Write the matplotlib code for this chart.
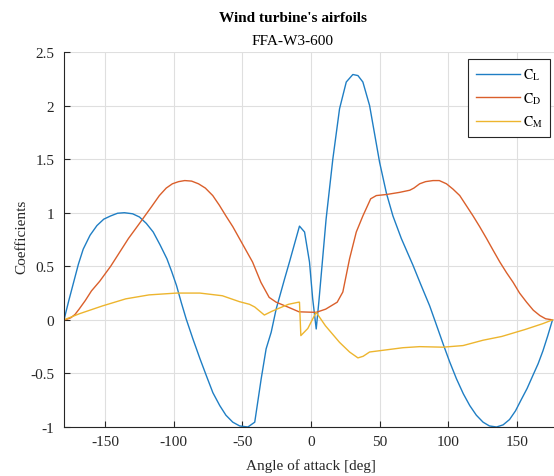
import matplotlib
matplotlib.use("Agg")
import matplotlib.pyplot as plt

plt.rcParams["font.family"] = ["Liberation Serif", "DejaVu Serif"]
plt.rcParams["mathtext.fontset"] = "stix"
plt.rcParams["axes.unicode_minus"] = False

# Lift coefficient vs angle of attack
alpha_cl = [-180, -176.5, -173, -169.5, -166, -161, -156, -151, -146, -141,
            -136, -130, -125, -120, -115, -110, -105, -101.5, -98, -94.5, -91,
            -86, -81, -76, -71.5, -66.5, -62, -57, -52, -46, -41, -36.3, -32.7,
            -29, -25.4, -19.3, -15.7, -8.4, -4.7, -1.1, 1.2, 3.8, 5.7, 11,
            15.9, 20.8, 25.7, 30.5, 34.2, 37.8, 42.7, 50, 55, 59.7, 65.8,
            74.3, 80, 86.5, 90.1, 96.7, 101, 106, 111, 115.7, 120.5, 125.4,
            130, 135.2, 140, 144.7, 149, 153, 157.5, 162, 165.5, 169, 172.5,
            176]
cl = [0, 0.18, 0.35, 0.52, 0.66, 0.79, 0.88, 0.94, 0.97, 0.995,
      1.00, 0.99, 0.96, 0.90, 0.82, 0.70, 0.57, 0.45, 0.32, 0.16, 0.01,
      -0.18, -0.36, -0.53, -0.68, -0.80, -0.89, -0.955, -0.99, -1.0, -0.955,
      -0.55, -0.27, -0.115, 0.10, 0.38, 0.54, 0.875, 0.82, 0.54, 0.2,
      -0.085, 0.165, 0.94, 1.5, 1.97, 2.22, 2.29, 2.28, 2.22, 2.0, 1.47,
      1.18, 0.97, 0.76, 0.51, 0.33, 0.13, 0.0, -0.24, -0.39, -0.55, -0.69,
      -0.80, -0.89, -0.955, -0.99, -1.0, -0.98, -0.93, -0.85, -0.75, -0.64,
      -0.51, -0.41, -0.29, -0.15, 0.0]

# Drag coefficient vs angle of attack
alpha_cd = [-180, -178, -175, -172, -169, -164.5, -160, -154, -146, -140,
            -133, -125, -120.5, -116, -110.5, -105.5, -101, -96.5, -92, -87,
            -82, -77, -71.6, -66.8, -62, -57, -52.2, -47.4, -42.6, -36.5,
            -30.5, -25.4, -16.9, -8.7, 3.8, 10.7, 19.1, 23.2, 28.1, 33, 37.8,
            43.5, 47.6, 55, 64.6, 72, 75, 79.2, 83.5, 88.9, 93.5, 98.7,
            103.5, 108.4, 113, 118.1, 122.9, 127.9, 132.7, 137.6, 142.5,
            147.3, 152, 157.1, 162, 166.8, 171, 176]
cd = [0, 0.005, 0.02, 0.05, 0.10, 0.18, 0.27, 0.36, 0.50, 0.62,
      0.76, 0.90, 0.98, 1.06, 1.16, 1.23, 1.27, 1.29, 1.30, 1.295,
      1.27, 1.23, 1.16, 1.07, 0.97, 0.87, 0.76, 0.65, 0.54, 0.35,
      0.21, 0.165, 0.12, 0.075, 0.07, 0.10, 0.165, 0.26, 0.57, 0.82, 0.97,
      1.13, 1.16, 1.17, 1.19, 1.21, 1.23, 1.27, 1.29, 1.30, 1.30, 1.27,
      1.22, 1.16, 1.07, 0.97, 0.87, 0.76, 0.65, 0.54, 0.44,
      0.35, 0.25, 0.165, 0.09, 0.04, 0.01, 0.0]

# Pitching moment coefficient vs angle of attack
alpha_cm = [-180, -169, -152, -135, -118, -98, -81, -64.6, -52.2, -44.8,
            -41, -34, -28.5, -23, -16.5, -9, -8.4, -7.4, -2.3, 2.5, 3.8,
            10.5, 20.8, 28.1, 34.2, 38, 42.7, 54.9, 67, 79.2, 96.2, 110.8,
            125.4, 139, 156, 169, 176]
cm = [0, 0.056, 0.13, 0.196, 0.233, 0.25, 0.25, 0.225, 0.17, 0.145,
      0.12, 0.045, 0.08, 0.11, 0.145, 0.165, 0.165, -0.147, -0.08, 0.04, 0.07,
      -0.055, -0.21, -0.30, -0.355, -0.34, -0.30, -0.28, -0.26, -0.25, -0.255,
      -0.24, -0.19, -0.155, -0.09, -0.035, 0.0]

x_ticks = [-150, -100, -50, 0, 50, 100, 150]
y_ticks = [-1, -0.5, 0, 0.5, 1, 1.5, 2, 2.5]
y_tick_labels = ["-1", "-0.5", "0", "0.5", "1", "1.5", "2", "2.5"]

W, H = 554, 477
fig = plt.figure(figsize=(W / 100, H / 100), dpi=100)
ax = fig.add_axes([64 / W, (H - 428) / H, 494 / W, 375 / H])

ax.plot(alpha_cl, cl, color="#1f7ec4", lw=1.0, label=r"$\mathrm{C}_\mathrm{L}$")
ax.plot(alpha_cd, cd, color="#da5f2b", lw=1.0, label=r"$\mathrm{C}_\mathrm{D}$")
ax.plot(alpha_cm, cm, color="#edb52e", lw=1.0, label=r"$\mathrm{C}_\mathrm{M}$")

ax.set_xlim(-180, 180)
ax.set_ylim(-1, 2.5)
ax.set_xticks(x_ticks)
ax.set_yticks(y_ticks)
ax.set_yticklabels(y_tick_labels)
ax.grid(True, color="#dfdfdf", lw=0.8)
ax.set_axisbelow(True)

for side in ("top", "right"):
    ax.spines[side].set_visible(False)
for side in ("left", "bottom"):
    ax.spines[side].set_color("#262626")
    ax.spines[side].set_linewidth(0.8)

ax.tick_params(axis="both", direction="in", length=4, width=0.8,
               color="#262626", labelcolor="#262626", labelsize=11)
ax.tick_params(axis="x", pad=6)
ax.tick_params(axis="y", pad=7)

fig.text(293 / W, 1 - 22 / H, "Wind turbine's airfoils", ha="center",
         va="baseline", fontsize=11, fontweight="bold", color="black")
fig.text(293 / W, 1 - 45 / H, "FFA-W3-600", ha="center", va="baseline",
         fontsize=11, color="black")
fig.text(311 / W, 1 - 470.5 / H, "Angle of attack [deg]", ha="center",
         va="baseline", fontsize=11, color="#262626")
fig.text(25 / W, 1 - 237 / H, "Coefficients", ha="center", va="baseline",
         rotation=90, rotation_mode="anchor", fontsize=11, color="#262626")

leg = ax.legend(loc="upper right", bbox_to_anchor=(550 / W, 1 - 60 / H),
                bbox_transform=fig.transFigure, borderaxespad=0,
                fancybox=False, framealpha=1, edgecolor="#262626",
                fontsize=10, handlelength=3.2, handletextpad=0.15,
                labelspacing=0.55, borderpad=0.55)
leg.get_frame().set_linewidth(0.8)

fig.savefig("out.png", dpi=100)
